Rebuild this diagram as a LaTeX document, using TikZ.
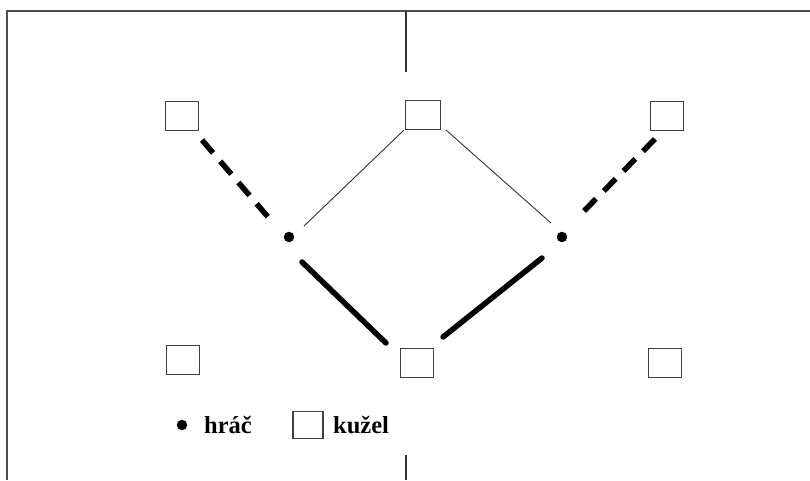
\documentclass[tikz,border=0pt]{standalone}
\usepackage{fontspec}
\setmainfont{Liberation Serif}
\begin{document}
\begin{tikzpicture}[x=1pt,y=-1pt,
  kuzel/.style={draw=black!75,line width=1.3pt,minimum width=33pt,minimum height=29pt,inner sep=0pt},
  hrac/.style={circle,fill=black,minimum size=10.5pt,inner sep=0pt},
  frame/.style={draw=black!70,line width=1.6pt},
  thinline/.style={draw=black!80,line width=0.9pt},
  thickline/.style={draw=black,line width=5.5pt,line cap=round},
  dashline/.style={draw=black,line width=5.5pt,dash pattern=on 17pt off 11pt},
  legend/.style={font=\fontsize{24.5}{29}\selectfont\bfseries,inner sep=0pt,anchor=base west}]
\useasboundingbox (0,0) rectangle (810,480);
\fill[white] (0,0) rectangle (810,480);
% frame
\coordinate (ftl) at (7,11);
\coordinate (ftr) at (810,11);
\coordinate (fbl) at (7,480);
\coordinate (mt1) at (406,11);
\coordinate (mt2) at (406,72);
\coordinate (mb1) at (406,455);
\coordinate (mb2) at (406,480);
\draw[frame] (fbl) -- (ftl) -- (ftr);
\draw[thinline,line width=1.1pt] (mt1) -- (mt2);
\draw[thinline,line width=1.1pt] (mb1) -- (mb2);
% cones
\node[kuzel] (tl) at (182,116) {};
\node[kuzel,minimum width=35pt] (tm) at (423,115) {};
\node[kuzel] (tr) at (667,116) {};
\node[kuzel] (bl) at (183,360) {};
\node[kuzel] (bm) at (417,363) {};
\node[kuzel] (br) at (665,363) {};
% players
\node[hrac] (pl) at (289,237) {};
\node[hrac] (pr) at (562,237) {};
% connectors
\draw[dashline] ([shift={(20,24)}]tl.center) -- ([shift={(-21,-20)}]pl.center);
\draw[dashline] ([shift={(-12,23)}]tr.center) -- ([shift={(20,-24)}]pr.center);
\draw[thinline] ([shift={(-19,15)}]tm.center) -- ([shift={(15,-11)}]pl.center);
\draw[thinline] ([shift={(23,15)}]tm.center) -- ([shift={(-11,-14)}]pr.center);
\draw[thickline] ([shift={(13,25)}]pl.center) -- ([shift={(-31,-20)}]bm.center);
\draw[thickline] ([shift={(-20,21)}]pr.center) -- ([shift={(26,-26)}]bm.center);
% legend
\node[hrac] (lgdot) at (182,425) {};
\node[legend] (lgh) at (204,433) {hráč};
\node[kuzel,minimum width=30pt,minimum height=27pt] (lgbox) at (308,425) {};
\node[legend] (lgk) at (333,433) {kužel};
\end{tikzpicture}
\end{document}
